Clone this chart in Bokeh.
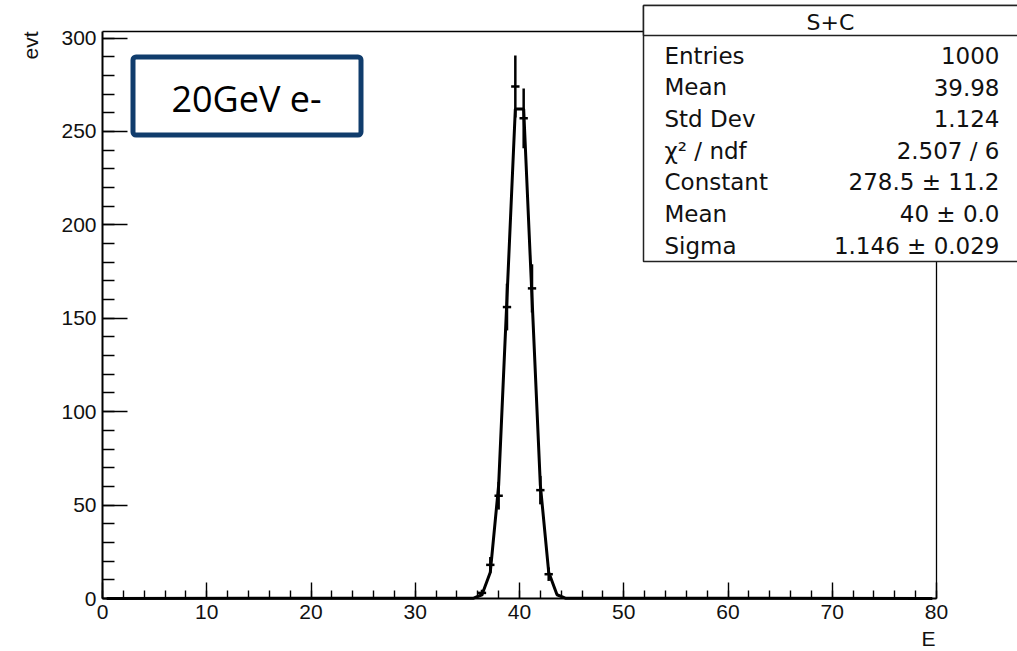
import math
from bokeh.plotting import figure
from bokeh.models import Range1d, SingleIntervalTicker, Label, BoxAnnotation, ColumnDataSource
from bokeh.embed import file_html
from bokeh.resources import INLINE

# ---------------- data ----------------
x_min, x_max = 0.0, 80.0
y_min, y_max = 0.0, 303.5
bin_width = 0.8
bin_centres = [36.4, 37.2, 38.0, 38.8, 39.6, 40.4, 41.2, 42.0, 42.8]
counts = [3, 18, 55, 156, 274, 257, 166, 58, 13]
count_errors = [1.7, 4.2, 7.4, 12.5, 16.6, 16.0, 12.9, 7.6, 3.6]

fit_x = [0.4, 35.6, 36.4, 37.2, 38.0, 38.8, 39.6, 40.4, 41.2, 42.0, 42.8, 43.6, 44.4, 79.6]
fit_y = [0.0, 0.2, 2.0, 14.1, 60.7, 161.0, 262.0, 262.0, 161.0, 60.7, 14.1, 2.0, 0.2, 0.0]

stats_title = "S+C"
stat_names = ["Entries", "Mean", "Std Dev", "\u03c7\u00b2 / ndf", "Constant", "Mean", "Sigma"]
stat_values = ["1000", "39.98", "1.124", "2.507 / 6", "278.5 \u00b1 11.2", "40 \u00b1 0.0", "1.146 \u00b1 0.029"]
tag_text = "20GeV e-"
x_title = "E"
y_title = "evt"

# ---------------- layout ----------------
W, H = 1017, 651
FL, FR, FT, FB = 102, 936, 31, 598          # page pixels of the ROOT frame (x 0..80, y 0..303.5)
px_per_x = (FR - FL) / (x_max - x_min)
px_per_y = (FB - FT) / (y_max - y_min)

def xd(px):
    return x_min + (px - FL) / px_per_x

def yd(py):
    return y_min + (FB - py) / px_per_y

# the plotting area covers the whole canvas; axes are pinned at the frame's edges
p = figure(width=W, height=H, x_range=Range1d(xd(0), xd(W)), y_range=Range1d(yd(H), yd(0)),
           output_backend="svg", toolbar_location=None,
           min_border_left=0, min_border_right=0, min_border_top=0, min_border_bottom=0)
p.xgrid.visible = False
p.ygrid.visible = False
p.outline_line_color = None
p.background_fill_color = "white"
p.border_fill_color = "white"

FONT = "Liberation Sans"
STAT_FONT = "DejaVu Sans"
for ax, interval, maj, mnr, bnds, loc in ((p.xaxis[0], 10, 16, 8, (x_min, x_max), y_min),
                                          (p.yaxis[0], 50, 25, 12, (y_min, y_max), x_min)):
    ax.fixed_location = loc
    ax.bounds = bnds
    ax.ticker = SingleIntervalTicker(interval=interval, num_minor_ticks=5)
    ax.major_tick_in = maj
    ax.major_tick_out = 0
    ax.minor_tick_in = mnr
    ax.minor_tick_out = 0
    ax.axis_line_width = 2
    ax.axis_line_color = "black"
    ax.major_tick_line_width = 1.4
    ax.minor_tick_line_width = 1.4
    ax.major_tick_line_color = "black"
    ax.minor_tick_line_color = "black"
    ax.major_label_text_font = FONT
    ax.major_label_text_font_size = "21px"
    ax.major_label_text_color = "#111111"
    ax.major_label_standoff = 6

# top and right frame edges
p.segment(x0=[x_min, x_max], y0=[y_max, y_min], x1=[x_max, x_max], y1=[y_max, y_max],
          line_width=1.3, line_color="black")

# fit curve
p.line(fit_x, fit_y, line_width=3, line_color="black")

# error bars
src = ColumnDataSource(dict(
    x=bin_centres,
    lo=[n - e for n, e in zip(counts, count_errors)],
    hi=[n + e for n, e in zip(counts, count_errors)],
    left=[c - bin_width / 2 for c in bin_centres],
    right=[c + bin_width / 2 for c in bin_centres],
    n=counts,
))
p.segment(x0="x", y0="lo", x1="x", y1="hi", source=src, line_width=2.5, line_color="black")
p.segment(x0="left", y0="n", x1="right", y1="n", source=src, line_width=2.5, line_color="black")

# axis titles
p.add_layout(Label(x=xd(30), y=yd(31), angle=math.pi / 2, text=y_title,
                   text_align="right", text_baseline="middle",
                   text_font=FONT, text_font_size="21px", text_color="#111111"))
p.add_layout(Label(x=xd(935), y=yd(638), text=x_title,
                   text_align="right", text_baseline="middle",
                   text_font=FONT, text_font_size="21px", text_color="#111111"))

# tag box
p.add_layout(BoxAnnotation(left=xd(132.5), right=xd(360.5), top=yd(56.5), bottom=yd(134.5),
                           fill_color=None, fill_alpha=0, line_color="#103c6c", line_alpha=1.0,
                           line_width=5, border_radius=3))
p.add_layout(Label(x=xd(246), y=yd(98), text=tag_text, text_align="center",
                   text_baseline="middle", text_font="Open Sans",
                   text_font_size="36px", text_color="black"))

# stats box
p.add_layout(BoxAnnotation(left=xd(643), right=xd(1060), top=yd(5), bottom=yd(261),
                           fill_color="white", fill_alpha=1.0, line_color="#222222",
                           line_alpha=1.0, line_width=1.5))
p.add_layout(BoxAnnotation(left=xd(643), right=xd(1060), top=yd(5), bottom=yd(35),
                           fill_color="white", fill_alpha=1.0, line_color="#222222",
                           line_alpha=1.0, line_width=1.5))
p.add_layout(Label(x=xd(830), y=yd(21.5), text=stats_title, text_align="center",
                   text_baseline="middle", text_font=STAT_FONT, text_font_size="22px",
                   text_color="#111111"))
for i, (nm, vl) in enumerate(zip(stat_names, stat_values)):
    mid = 55 + i * 31.67
    p.add_layout(Label(x=xd(664), y=yd(mid), text=nm, text_align="left",
                       text_baseline="middle", text_font=STAT_FONT, text_font_size="23px",
                       text_color="#111111"))
    p.add_layout(Label(x=xd(999), y=yd(mid), text=vl, text_align="right",
                       text_baseline="middle", text_font=STAT_FONT, text_font_size="23px",
                       text_color="#111111"))

open("out.html", "w").write(file_html(p, INLINE))
